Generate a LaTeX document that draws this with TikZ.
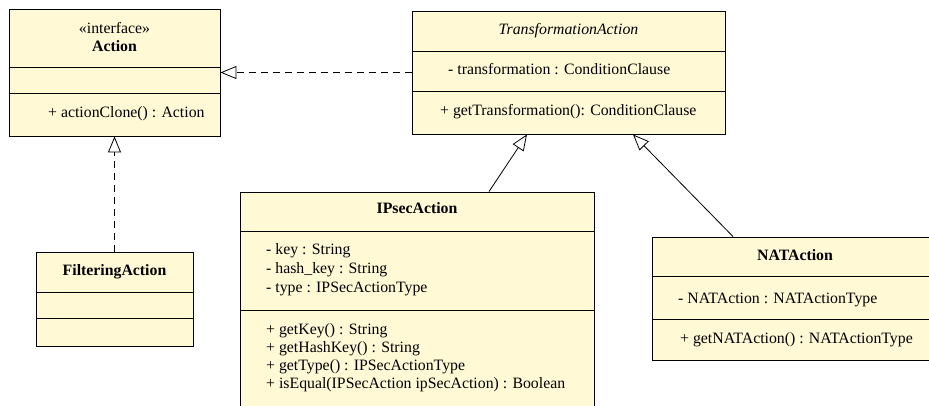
\documentclass[tikz,border=0pt]{standalone}
\usepackage{fontspec}
\setmainfont{Liberation Serif}
\usetikzlibrary{arrows.meta}
\definecolor{umlfill}{RGB}{255,249,214}
\tikzset{
  umlbox/.style={draw=black, fill=umlfill, line width=0.9pt, inner sep=0pt},
  txt/.style={inner sep=0pt, anchor=west, font=\fontsize{15.8}{19}\selectfont, text height=11pt, text depth=4pt},
  ctxt/.style={txt, anchor=center},
  divider/.style={line width=0.9pt},
  hollowtip/.style={-{Triangle[open, length=16pt, width=13pt, line width=0.8pt]}},
  realize/.style={hollowtip, line width=0.8pt, dash pattern=on 7pt off 5pt},
  inherit/.style={hollowtip, line width=0.8pt},
}
\begin{document}
\begin{tikzpicture}[x=1pt,y=-1pt]
\useasboundingbox (0,0) rectangle (929,405);
\clip (0,0) rectangle (929,405);

% Action
\node[umlbox, minimum width=211pt, minimum height=127pt] (action) at (114.5,72.5) {};
\draw[divider] ([yshift=-59pt]action.north west) -- ([yshift=-59pt]action.north east);
\draw[divider] ([yshift=-85pt]action.north west) -- ([yshift=-85pt]action.north east);
\node[ctxt] (actst) at (114.5,29.5) {«interface»};
\node[ctxt, font=\fontsize{15.8}{19}\selectfont\bfseries] (actname) at (114.5,47.5) {Action};
\node[txt] (actm1) at (48,114) {+ actionClone() : Action};

% TransformationAction
\node[umlbox, minimum width=313pt, minimum height=123pt] (ta) at (568.5,72.5) {};
\draw[divider] ([yshift=-41pt]ta.north west) -- ([yshift=-41pt]ta.north east);
\draw[divider] ([yshift=-81pt]ta.north west) -- ([yshift=-81pt]ta.north east);
\node[ctxt, font=\fontsize{15.8}{19}\selectfont\itshape] (taname) at (568.5,30.5) {TransformationAction};
\node[txt] (taa1) at (448,71) {- transformation : ConditionClause};
\node[txt] (tam1) at (440,112) {+ getTransformation(): ConditionClause};

% FilteringAction
\node[umlbox, minimum width=157pt, minimum height=94pt] (filt) at (114.5,299) {};
\draw[divider] ([yshift=-41pt]filt.north west) -- ([yshift=-41pt]filt.north east);
\draw[divider] ([yshift=-67pt]filt.north west) -- ([yshift=-67pt]filt.north east);
\node[ctxt, font=\fontsize{15.8}{19}\selectfont\bfseries] (filtname) at (114.5,272) {FilteringAction};

% IPsecAction
\node[umlbox, minimum width=354pt, minimum height=233pt] (ips) at (417,308.5) {};
\draw[divider] ([yshift=-40pt]ips.north west) -- ([yshift=-40pt]ips.north east);
\draw[divider] ([yshift=-119pt]ips.north west) -- ([yshift=-119pt]ips.north east);
\node[ctxt, font=\fontsize{15.8}{19}\selectfont\bfseries] (ipsname) at (417,210) {IPsecAction};
\node[txt] (ipsa1) at (266,251) {- key : String};
\node[txt] (ipsa2) at (266,270) {- hash\_key : String};
\node[txt] (ipsa3) at (266,289) {- type : IPSecActionType};
\node[txt] (ipsm1) at (266,331) {+ getKey() : String};
\node[txt] (ipsm2) at (266,349) {+ getHashKey() : String};
\node[txt] (ipsm3) at (266,367) {+ getType() : IPSecActionType};
\node[txt] (ipsm4) at (266,385) {+ isEqual(IPSecAction ipSecAction) : Boolean};

% NATAction
\node[umlbox, minimum width=293pt, minimum height=123pt] (nat) at (798.5,298.5) {};
\draw[divider] ([yshift=-40pt]nat.north west) -- ([yshift=-40pt]nat.north east);
\draw[divider] ([yshift=-83pt]nat.north west) -- ([yshift=-83pt]nat.north east);
\node[ctxt, font=\fontsize{15.8}{19}\selectfont\bfseries] (natname) at (795,257) {NATAction};
\node[txt] (nata1) at (678,300) {- NATAction : NATActionType};
\node[txt] (natm1) at (680,340) {+ getNATAction() : NATActionType};

% connectors
\draw[realize] (ta.west) -- (action.east);
\draw[realize] (filt.north) -- (action.south);
\draw[inherit] ([xshift=72pt]ips.north) -- ([xshift=-41.5pt]ta.south);
\draw[inherit] ([xshift=-65.5pt]nat.north) -- ([xshift=64.5pt]ta.south);
\end{tikzpicture}
\end{document}
